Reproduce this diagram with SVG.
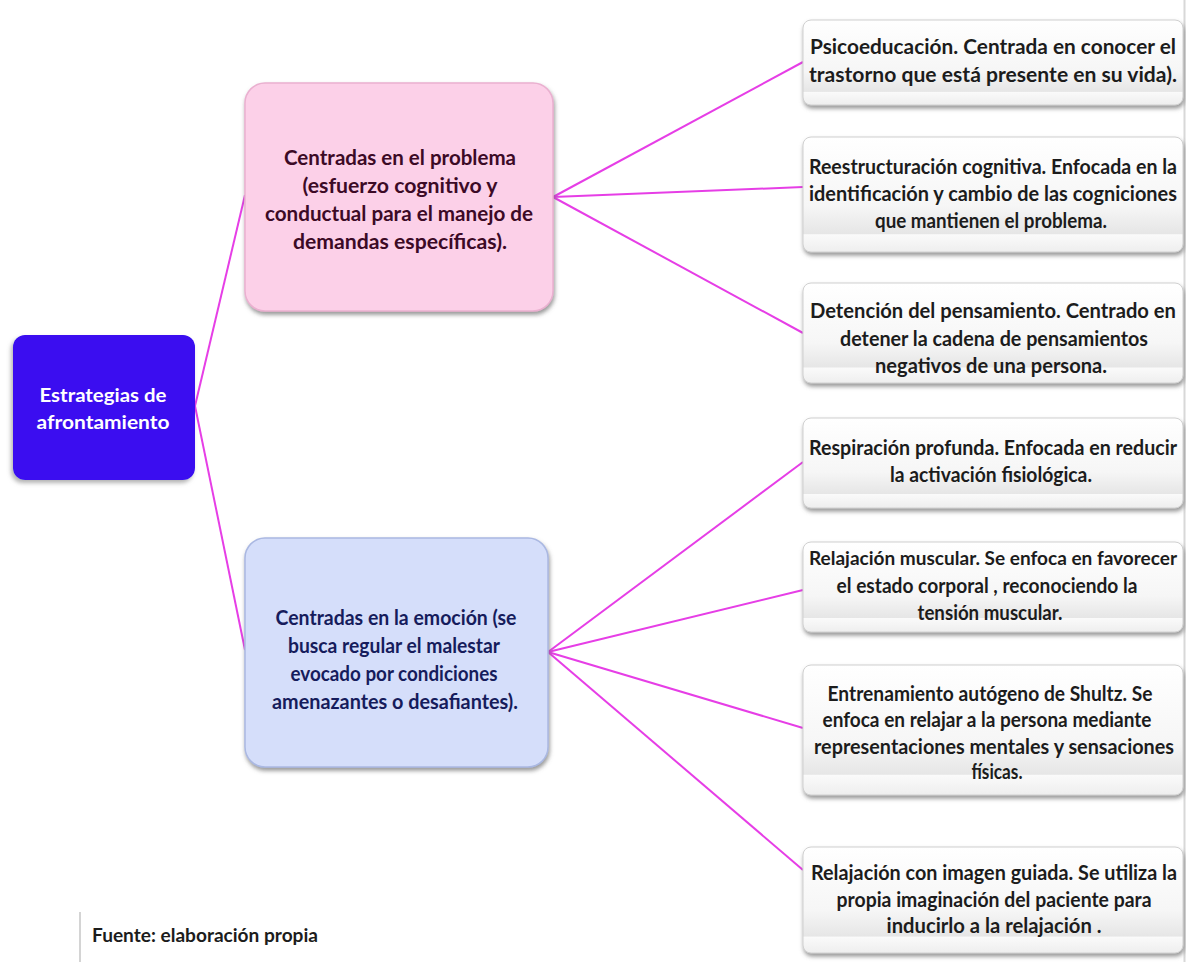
<svg xmlns="http://www.w3.org/2000/svg" width="1186" height="962" viewBox="0 0 1186 962">
<defs>
<linearGradient id="gBox" x1="0" y1="0" x2="0" y2="1">
<stop offset="0" stop-color="#ffffff"/>
<stop offset="0.6" stop-color="#f6f6f6"/>
<stop offset="0.84" stop-color="#e6e6e6"/>
<stop offset="0.85" stop-color="#fafafa"/>
<stop offset="1" stop-color="#eeeeee"/>
</linearGradient>
<filter id="sh" x="-10%" y="-10%" width="125%" height="130%">
<feDropShadow dx="1" dy="3" stdDeviation="2" flood-color="#6a6a6a" flood-opacity="0.7"/>
</filter>
<filter id="sh2" x="-10%" y="-10%" width="125%" height="130%">
<feDropShadow dx="-2" dy="3" stdDeviation="2" flood-color="#808080" flood-opacity="0.6"/>
</filter>
</defs>
<style>
text{font-family:Lato,"Liberation Sans",sans-serif;font-weight:bold;text-anchor:middle}
.rb{fill:url(#gBox);stroke:#d0d0d0;stroke-width:1;filter:url(#sh)}
.rt{font-size:20px;fill:#1c1c1c}
.pt{font-size:21px;fill:#3c0a26}
.bt{font-size:21px;fill:#161c5c}
.con{stroke:#e63ee6;stroke-width:2;fill:none}
</style>
<rect width="1186" height="962" fill="#ffffff"/>
<line x1="1184.5" y1="0" x2="1184.5" y2="962" stroke="#d8d8d8" stroke-width="2"/>

<g id="connectors">
<line class="con" x1="195" y1="406" x2="245" y2="195"/>
<line class="con" x1="195" y1="406" x2="245" y2="650"/>
<line class="con" x1="553" y1="197" x2="803" y2="62"/>
<line class="con" x1="553" y1="197" x2="803" y2="187"/>
<line class="con" x1="553" y1="197" x2="803" y2="333"/>
<line class="con" x1="548" y1="652" x2="803" y2="462"/>
<line class="con" x1="548" y1="652" x2="803" y2="590"/>
<line class="con" x1="548" y1="652" x2="803" y2="728"/>
<line class="con" x1="548" y1="652" x2="803" y2="870"/>
</g>

<g id="root">
<rect x="13" y="335" width="182" height="145" rx="12" fill="#3a10f0" filter="url(#sh2)"/>
<text x="103" y="402" font-size="19" fill="#ffffff" textLength="127" lengthAdjust="spacingAndGlyphs">Estrategias de</text>
<text x="103" y="429" font-size="19" fill="#ffffff" textLength="133" lengthAdjust="spacingAndGlyphs">afrontamiento</text>
</g>

<g id="problema">
<rect x="245" y="83" width="308" height="228" rx="20" fill="#fcd0e8" stroke="#eab0d0" stroke-width="1.5" filter="url(#sh)"/>
<text class="pt" x="400" y="165" textLength="232" lengthAdjust="spacingAndGlyphs">Centradas en el problema</text>
<text class="pt" x="400" y="193" textLength="195" lengthAdjust="spacingAndGlyphs">(esfuerzo cognitivo y</text>
<text class="pt" x="399" y="221" textLength="268" lengthAdjust="spacingAndGlyphs">conductual para el manejo de</text>
<text class="pt" x="400" y="249" textLength="214" lengthAdjust="spacingAndGlyphs">demandas específicas).</text>
</g>

<g id="emocion">
<rect x="245" y="538" width="303" height="229" rx="20" fill="#d5defa" stroke="#aab8e2" stroke-width="1.5" filter="url(#sh)"/>
<text class="bt" x="396" y="625" textLength="241" lengthAdjust="spacingAndGlyphs">Centradas en la emoción (se</text>
<text class="bt" x="394" y="653" textLength="212" lengthAdjust="spacingAndGlyphs">busca regular el malestar</text>
<text class="bt" x="394" y="681" textLength="207" lengthAdjust="spacingAndGlyphs">evocado por condiciones</text>
<text class="bt" x="395" y="709" textLength="246" lengthAdjust="spacingAndGlyphs">amenazantes o desafiantes).</text>
</g>

<g id="psicoeducacion">
<rect class="rb" x="803" y="20" width="380" height="85" rx="8"/>
<text class="rt" x="993" y="54" textLength="366" lengthAdjust="spacingAndGlyphs">Psicoeducación. Centrada en conocer el</text>
<text class="rt" x="993" y="82" textLength="368" lengthAdjust="spacingAndGlyphs">trastorno que está presente en su vida).</text>
</g>

<g id="reestructuracion">
<rect class="rb" x="803" y="137" width="380" height="115" rx="8"/>
<text class="rt" x="993" y="174" textLength="368" lengthAdjust="spacingAndGlyphs">Reestructuración  cognitiva. Enfocada en la</text>
<text class="rt" x="993" y="201" textLength="368" lengthAdjust="spacingAndGlyphs">identificación y cambio de las  cogniciones</text>
<text class="rt" x="991" y="228" textLength="232" lengthAdjust="spacingAndGlyphs">que mantienen el problema.</text>
</g>

<g id="detencion">
<rect class="rb" x="803" y="283" width="380" height="100" rx="8"/>
<text class="rt" x="993" y="318" textLength="366" lengthAdjust="spacingAndGlyphs">Detención del pensamiento. Centrado en</text>
<text class="rt" x="994" y="346" textLength="308" lengthAdjust="spacingAndGlyphs">detener la cadena de pensamientos</text>
<text class="rt" x="991" y="373" textLength="232" lengthAdjust="spacingAndGlyphs">negativos de una persona.</text>
</g>

<g id="respiracion">
<rect class="rb" x="803" y="418" width="380" height="90" rx="8"/>
<text class="rt" x="993" y="455" textLength="368" lengthAdjust="spacingAndGlyphs">Respiración profunda. Enfocada en reducir</text>
<text class="rt" x="991" y="482" textLength="202" lengthAdjust="spacingAndGlyphs">la activación fisiológica.</text>
</g>

<g id="relajacion-muscular">
<rect class="rb" x="803" y="542" width="380" height="90" rx="8"/>
<text class="rt" x="993" y="565" font-size="19" style="font-size:19px" textLength="368" lengthAdjust="spacingAndGlyphs">Relajación muscular. Se enfoca en favorecer</text>
<text class="rt" x="987" y="593" textLength="301" lengthAdjust="spacingAndGlyphs">el estado corporal , reconociendo la</text>
<text class="rt" x="990" y="620" textLength="145" lengthAdjust="spacingAndGlyphs">tensión muscular.</text>
</g>

<g id="autogeno">
<rect class="rb" x="803" y="665" width="380" height="130" rx="8"/>
<text class="rt" x="990" y="701" textLength="325" lengthAdjust="spacingAndGlyphs">Entrenamiento autógeno de Shultz. Se</text>
<text class="rt" x="987" y="727" textLength="329" lengthAdjust="spacingAndGlyphs">enfoca en relajar a la persona mediante</text>
<text class="rt" x="994" y="754" textLength="360" lengthAdjust="spacingAndGlyphs">representaciones mentales y sensaciones</text>
<text class="rt" x="997" y="779" textLength="51" lengthAdjust="spacingAndGlyphs">físicas.</text>
</g>

<g id="imagen-guiada">
<rect class="rb" x="803" y="847" width="380" height="106" rx="8"/>
<text class="rt" x="994" y="880" textLength="366" lengthAdjust="spacingAndGlyphs">Relajación con imagen guiada. Se utiliza la</text>
<text class="rt" x="994" y="907" textLength="315" lengthAdjust="spacingAndGlyphs">propia imaginación del paciente para</text>
<text class="rt" x="994" y="933" textLength="215" lengthAdjust="spacingAndGlyphs">inducirlo  a la relajación .</text>
</g>

<g id="fuente">
<line x1="80" y1="912" x2="80" y2="962" stroke="#d4d4d4" stroke-width="2"/>
<text x="205" y="942" font-size="18" fill="#1c1c1c" textLength="226" lengthAdjust="spacingAndGlyphs">Fuente: elaboración propia</text>
</g>
</svg>
